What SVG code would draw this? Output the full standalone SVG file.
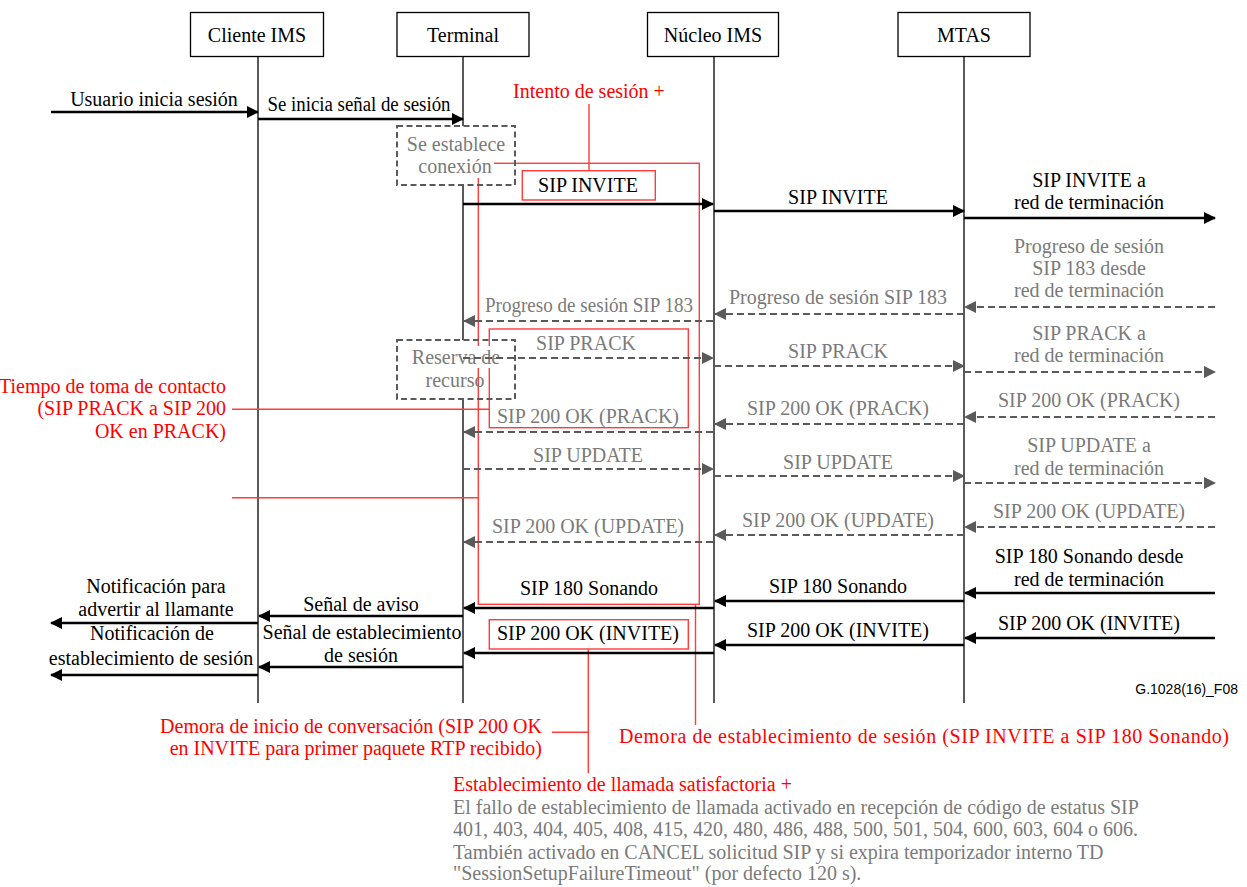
<svg xmlns="http://www.w3.org/2000/svg" width="1247" height="887" viewBox="0 0 1247 887">
<style>
svg text, text{font-family:'Liberation Serif','Times New Roman',serif !important;font-size:20px}
svg text.mono{font-family:'Liberation Sans',Arial,sans-serif !important;font-size:14px}
.c{text-anchor:middle}
.e{text-anchor:end}
.k{fill:#000}
.g{fill:#7a7a7a}
.r{fill:#ff0000}
.hdr{fill:#fff;stroke:#000;stroke-width:1.3}
.life{stroke:#000;stroke-width:1.3;fill:none}
.sol{stroke:#000;stroke-width:2.6;fill:none;marker-end:url(#ab)}
.dsh{stroke:#5a5a5a;stroke-width:2;stroke-dasharray:7 4;fill:none;marker-end:url(#ag)}
.dbox{fill:none;stroke:#5a5a5a;stroke-width:2;stroke-dasharray:6 3.5}
.rbox{fill:none;stroke:#ff3b3b;stroke-width:1.4}
.rl{stroke:#ff3b3b;stroke-width:1.4;fill:none}
</style>
<defs>
<marker id="ab" viewBox="0 0 12 12" refX="11" refY="6" markerWidth="12" markerHeight="12" markerUnits="userSpaceOnUse" orient="auto"><path d="M0,0 L12,6 L0,12 z" fill="#000"/></marker>
<marker id="ag" viewBox="0 0 12 12" refX="11" refY="6" markerWidth="12" markerHeight="12" markerUnits="userSpaceOnUse" orient="auto"><path d="M0,0 L12,6 L0,12 z" fill="#5a5a5a"/></marker>
</defs>
<rect width="1247" height="887" fill="#fff"/>

<g id="cliente">
<rect class="hdr" x="190.5" y="12.5" width="133" height="44"/>
<text class="c k" x="257" y="42">Cliente IMS</text>
<line class="life" x1="258" y1="57" x2="258" y2="703"/>
</g>
<g id="terminal">
<rect class="hdr" x="397" y="12.5" width="132" height="44"/>
<text class="c k" x="463" y="42">Terminal</text>
<line class="life" x1="463" y1="57" x2="463" y2="126"/>
<line class="life" x1="463" y1="185" x2="463" y2="340"/>
<line class="life" x1="463" y1="399" x2="463" y2="703"/>
</g>
<g id="nucleo">
<rect class="hdr" x="647.5" y="12.5" width="131" height="44"/>
<text class="c k" x="713" y="42">Núcleo IMS</text>
<line class="life" x1="714" y1="57" x2="714" y2="703"/>
</g>
<g id="mtas">
<rect class="hdr" x="898" y="12.5" width="132" height="44"/>
<text class="c k" x="964" y="42">MTAS</text>
<line class="life" x1="964" y1="57" x2="964" y2="703"/>
</g>

<g id="red-annotations">
<rect class="rbox" x="478.3" y="163.3" width="221" height="441"/>
<line class="rl" x1="589" y1="104" x2="589" y2="170.7"/>
<rect class="rbox" x="522.3" y="170.7" width="133" height="29.3"/>
<rect class="rbox" x="489.3" y="329" width="199" height="98.7"/>
<line class="rl" x1="232" y1="409.3" x2="489.3" y2="409.3"/>
<line class="rl" x1="232" y1="497.7" x2="478.3" y2="497.7"/>
<rect class="rbox" x="489.3" y="619.7" width="199" height="29.3"/>
<line class="rl" x1="695.5" y1="604.3" x2="695.5" y2="725"/>
<line class="rl" x1="588.3" y1="649" x2="588.3" y2="773"/>
<line class="rl" x1="552" y1="732.3" x2="588.3" y2="732.3"/>
<text class="c r" x="589" y="98">Intento de sesión +</text>
<text class="e r" x="226" y="393">Tiempo de toma de contacto</text>
<text class="e r" x="226" y="415">(SIP PRACK a SIP 200</text>
<text class="e r" x="226" y="438">OK en PRACK)</text>
<text class="e r" x="542" y="733">Demora de inicio de conversación (SIP 200 OK</text>
<text class="e r" x="542" y="755">en INVITE para primer paquete RTP recibido)</text>
<text class="r" x="619" y="743" textLength="610" lengthAdjust="spacing">Demora de establecimiento de sesión (SIP INVITE a SIP 180 Sonando)</text>
<text class="r" x="453" y="791">Establecimiento de llamada satisfactoria +</text>
</g>

<g id="box-conexion">
<rect class="dbox" x="397" y="126" width="118" height="59"/>
<rect x="413" y="154" width="81" height="24" fill="#fff"/>
<text class="c g" x="456" y="151">Se establece</text>
<text class="c g" x="455" y="173">conexión</text>
</g>
<g id="box-recurso">
<rect class="dbox" x="397" y="340" width="118" height="59"/>
<rect x="409" y="346" width="95" height="22" fill="#fff"/>
<text class="c g" x="456" y="364">Reserva de</text>
<text class="c g" x="455" y="387">recurso</text>
</g>

<g id="connectors">
<line class="sol" x1="51" y1="112" x2="258" y2="112"/>
<line class="sol" x1="258" y1="119" x2="463" y2="119"/>
<line class="sol" x1="463" y1="204" x2="713" y2="204"/>
<line class="sol" x1="714" y1="211" x2="964" y2="211"/>
<line class="sol" x1="964" y1="218" x2="1215" y2="218"/>

<line class="dsh" x1="1215" y1="307" x2="965" y2="307"/>
<line class="dsh" x1="964" y1="314" x2="715" y2="314"/>
<line class="dsh" x1="713" y1="321" x2="464" y2="321"/>

<line class="dsh" x1="463" y1="358" x2="713" y2="358"/>
<line class="dsh" x1="714" y1="366" x2="964" y2="366"/>
<line class="dsh" x1="964" y1="372" x2="1215" y2="372"/>

<line class="dsh" x1="1215" y1="417" x2="965" y2="417"/>
<line class="dsh" x1="964" y1="424" x2="715" y2="424"/>
<line class="dsh" x1="713" y1="432" x2="464" y2="432"/>

<line class="dsh" x1="463" y1="469" x2="713" y2="469"/>
<line class="dsh" x1="714" y1="476" x2="964" y2="476"/>
<line class="dsh" x1="964" y1="483" x2="1215" y2="483"/>

<line class="dsh" x1="1215" y1="527" x2="965" y2="527"/>
<line class="dsh" x1="964" y1="535" x2="715" y2="535"/>
<line class="dsh" x1="713" y1="542" x2="464" y2="542"/>

<line class="sol" x1="1215" y1="593" x2="965" y2="593"/>
<line class="sol" x1="964" y1="601" x2="715" y2="601"/>
<line class="sol" x1="714" y1="608" x2="464" y2="608"/>
<line class="sol" x1="463" y1="616" x2="259" y2="616"/>
<line class="sol" x1="258" y1="623" x2="51" y2="623"/>

<line class="sol" x1="1215" y1="638" x2="965" y2="638"/>
<line class="sol" x1="964" y1="645" x2="715" y2="645"/>
<line class="sol" x1="714" y1="653" x2="464" y2="653"/>
<line class="sol" x1="463" y1="667" x2="259" y2="667"/>
<line class="sol" x1="258" y1="675" x2="51" y2="675"/>
</g>

<g id="labels">
<text class="c k" x="154" y="106">Usuario inicia sesión</text>
<text class="c k" x="359" y="111" textLength="183" lengthAdjust="spacingAndGlyphs">Se inicia señal de sesión</text>
<text class="c k" x="588" y="192">SIP INVITE</text>
<text class="c k" x="838" y="204">SIP INVITE</text>
<text class="c k" x="1089" y="187">SIP INVITE a</text>
<text class="c k" x="1089" y="209">red de terminación</text>

<text class="c g" x="1089" y="253">Progreso de sesión</text>
<text class="c g" x="1089" y="275">SIP 183 desde</text>
<text class="c g" x="1089" y="297">red de terminación</text>
<text class="c g" x="838" y="304">Progreso de sesión SIP 183</text>
<text class="c g" x="589" y="312" textLength="208" lengthAdjust="spacingAndGlyphs">Progreso de sesión SIP 183</text>

<text class="c g" x="586" y="350">SIP PRACK</text>
<text class="c g" x="838" y="358">SIP PRACK</text>
<text class="c g" x="1089" y="340">SIP PRACK a</text>
<text class="c g" x="1089" y="362">red de terminación</text>

<text class="c g" x="1089" y="407">SIP 200 OK (PRACK)</text>
<text class="c g" x="838" y="415">SIP 200 OK (PRACK)</text>
<text class="c g" x="588" y="423">SIP 200 OK (PRACK)</text>

<text class="c g" x="588" y="462">SIP UPDATE</text>
<text class="c g" x="838" y="469">SIP UPDATE</text>
<text class="c g" x="1089" y="452">SIP UPDATE a</text>
<text class="c g" x="1089" y="475">red de terminación</text>

<text class="c g" x="1089" y="518">SIP 200 OK (UPDATE)</text>
<text class="c g" x="838" y="527">SIP 200 OK (UPDATE)</text>
<text class="c g" x="588" y="533">SIP 200 OK (UPDATE)</text>

<text class="c k" x="1089" y="563">SIP 180 Sonando desde</text>
<text class="c k" x="1089" y="586">red de terminación</text>
<text class="c k" x="838" y="593">SIP 180 Sonando</text>
<text class="c k" x="589" y="595">SIP 180 Sonando</text>
<text class="c k" x="361" y="611">Señal de aviso</text>
<text class="c k" x="156" y="593">Notificación para</text>
<text class="c k" x="156" y="616">advertir al llamante</text>

<text class="c k" x="1089" y="630">SIP 200 OK (INVITE)</text>
<text class="c k" x="838" y="637">SIP 200 OK (INVITE)</text>
<text class="c k" x="588" y="640">SIP 200 OK (INVITE)</text>
<text class="c k" x="362" y="639">Señal de establecimiento</text>
<text class="c k" x="361" y="662">de sesión</text>
<text class="c k" x="152" y="640">Notificación de</text>
<text class="c k" x="151" y="665">establecimiento de sesión</text>

<text class="mono e" x="1238" y="694">G.1028(16)_F08</text>

<text class="g" x="453" y="814">El fallo de establecimiento de llamada activado en recepción de código de estatus SIP</text>
<text class="g" x="453" y="836">401, 403, 404, 405, 408, 415, 420, 480, 486, 488, 500, 501, 504, 600, 603, 604 o 606.</text>
<text class="g" x="453" y="859">También activado en CANCEL solicitud SIP y si expira temporizador interno TD</text>
<text class="g" x="453" y="880">"SessionSetupFailureTimeout" (por defecto 120 s).</text>
</g>
</svg>
